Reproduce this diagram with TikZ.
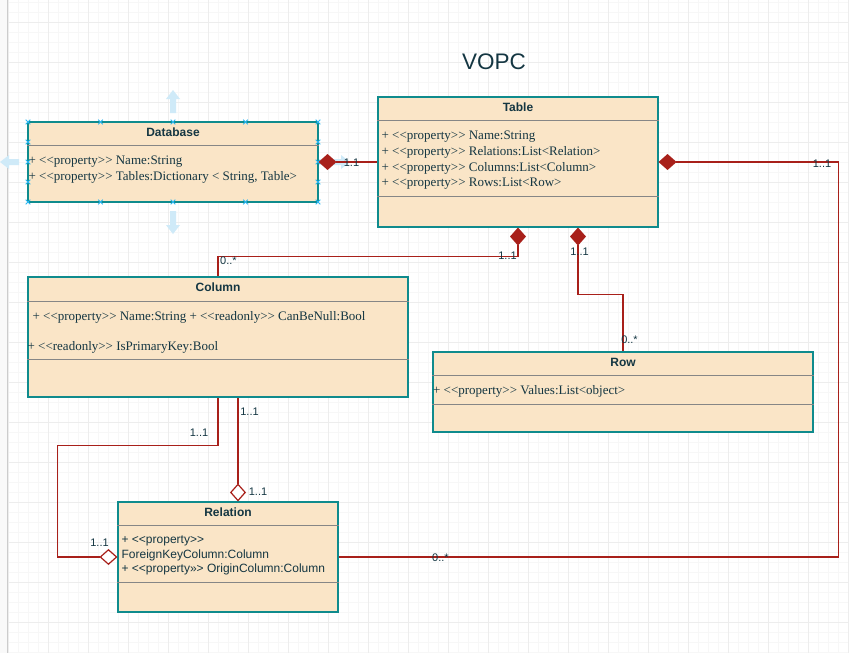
\documentclass[tikz,border=0pt]{standalone}
\usepackage{fontspec}
\setmainfont{Liberation Serif}[Ligatures=TeXOff]
\setsansfont{Liberation Sans}[Ligatures=TeXOff]
\usepackage{tikz}
\usetikzlibrary{shapes,arrows,arrows.meta}
\definecolor{classfill}{HTML}{FAE5C7}
\definecolor{classline}{HTML}{0F8B8D}
\definecolor{linkred}{HTML}{A8201A}
\definecolor{inkblue}{HTML}{143642}
\definecolor{hoverblue}{HTML}{CFEAF8}
\definecolor{handleblue}{HTML}{29B6F2}

\begin{document}
\begin{tikzpicture}[x=1pt,y=-1pt]
	\tikzstyle{classbox} = [draw=classline, fill=classfill, shape=rectangle, line width=1.1pt, inner sep=0pt]
	\tikzstyle{compline} = [draw=gray!95, line width=0.9pt]
	\tikzstyle{classtitle} = [text=inkblue, font=\fontsize{12}{14}\selectfont\sffamily\bfseries, inner sep=0pt, anchor=base]
	\tikzstyle{attr} = [text=inkblue, font=\fontsize{13}{16}\selectfont, inner sep=0pt, anchor=base west]
	\tikzstyle{attrsans} = [attr, font=\fontsize{12}{14}\selectfont\sffamily]
	\tikzstyle{mult} = [text=inkblue, font=\fontsize{11}{13}\selectfont\sffamily, inner sep=0pt, anchor=base]
	\tikzstyle{link} = [draw=linkred, line width=1.2pt]
	\tikzstyle{comp} = [link, {Diamond[length=18pt,width=16pt,fill=linkred]}-]
	\tikzstyle{agg} = [link, {Diamond[length=18pt,width=16pt,open,fill=white]}-]
	\tikzstyle{minorgrid} = [draw=gray!6, line width=0.8pt]
	\tikzstyle{majorgrid} = [draw=gray!14, line width=0.8pt]
	\tikzstyle{hoverarrow} = [fill=hoverblue]
	\tikzstyle{handle} = [draw=handleblue, line width=0.8pt]
	\useasboundingbox (0,0) rectangle (849,653);
	%Background grid
	\fill[white] (0,0) rectangle (849,653);
	\fill[gray!5] (0,0) rectangle (7,653);
	\foreach \gx in {8,18,...,848} \draw[minorgrid] (\gx,0) -- (\gx,653);
	\foreach \gy in {2,12,...,652} \draw[minorgrid] (7,\gy) -- (849,\gy);
	\foreach \gx in {8,48,...,848} \draw[majorgrid] (\gx,0) -- (\gx,653);
	\foreach \gy in {22,62,...,622} \draw[majorgrid] (7,\gy) -- (849,\gy);
	\draw[gray!40] (7,0) -- (7,653);
	%Hover arrows round the selected class
	\fill[hoverarrow, shift={(173,113)}] (-3,0) -- (-3,-14) -- (-7,-14) -- (0,-23) -- (7,-14) -- (3,-14) -- (3,0) -- cycle;
	\fill[hoverarrow, shift={(173,211)}, rotate=180] (-3,0) -- (-3,-14) -- (-7,-14) -- (0,-23) -- (7,-14) -- (3,-14) -- (3,0) -- cycle;
	\fill[hoverarrow, shift={(19,162)}, rotate=90] (-3,0) -- (-3,-10) -- (-7,-10) -- (0,-19) -- (7,-10) -- (3,-10) -- (3,0) -- cycle;
	\fill[hoverarrow, shift={(327,162)}, rotate=-90] (-3,0) -- (-3,-14) -- (-7,-14) -- (0,-23) -- (7,-14) -- (3,-14) -- (3,0) -- cycle;
	%Title
	\node[font=\fontsize{22.5}{26}\selectfont\sffamily, text=inkblue, anchor=base] (title) at (494,69.3) {VOPC};
	%Creating Classes
	\node[classbox, minimum width=290, minimum height=80] (db) at (173,162) {};
	\node[classtitle] (db-name) at ([yshift=-15pt]db.north) {Database};
	\draw[compline] ([yshift=-24pt]db.north west) -- ([yshift=-24pt]db.north east);
	\node[attr] (db-a1) at ([xshift=1pt,yshift=-43.5pt]db.north west) {+ <<property>> Name:String};
	\node[attr] (db-a2) at ([xshift=1pt,yshift=-59.5pt]db.north west) {+ <<property>> Tables:Dictionary < String, Table>};

	\node[classbox, minimum width=280, minimum height=130] (tbl) at (518,162) {};
	\node[classtitle] (tbl-name) at ([yshift=-15pt]tbl.north) {Table};
	\draw[compline] ([yshift=-24pt]tbl.north west) -- ([yshift=-24pt]tbl.north east);
	\draw[compline] ([yshift=-100pt]tbl.north west) -- ([yshift=-100pt]tbl.north east);
	\node[attr] (tbl-a1) at ([xshift=4pt,yshift=-43pt]tbl.north west) {+ <<property>> Name:String};
	\node[attr] (tbl-a2) at ([xshift=4pt,yshift=-59pt]tbl.north west) {+ <<property>> Relations:List<Relation>};
	\node[attr] (tbl-a3) at ([xshift=4pt,yshift=-75pt]tbl.north west) {+ <<property>> Columns:List<Column>};
	\node[attr] (tbl-a4) at ([xshift=4pt,yshift=-90.5pt]tbl.north west) {+ <<property>> Rows:List<Row>};

	\node[classbox, minimum width=380, minimum height=120] (col) at (218,337) {};
	\node[classtitle] (col-name) at ([yshift=-15pt]col.north) {Column};
	\draw[compline] ([yshift=-25pt]col.north west) -- ([yshift=-25pt]col.north east);
	\draw[compline] ([yshift=-83pt]col.north west) -- ([yshift=-83pt]col.north east);
	\node[attr] (col-a1) at ([xshift=5pt,yshift=-44pt]col.north west) {+ <<property>> Name:String + <<readonly>> CanBeNull:Bool};
	\node[attr] (col-a2) at ([xshift=0pt,yshift=-74pt]col.north west) {+ <<readonly>> IsPrimaryKey:Bool};

	\node[classbox, minimum width=380, minimum height=80] (row) at (623,392) {};
	\node[classtitle] (row-name) at ([yshift=-15pt]row.north) {Row};
	\draw[compline] ([yshift=-24pt]row.north west) -- ([yshift=-24pt]row.north east);
	\draw[compline] ([yshift=-53pt]row.north west) -- ([yshift=-53pt]row.north east);
	\node[attr] (row-a1) at ([xshift=0.5pt,yshift=-43pt]row.north west) {+ <<property>> Values:List<object>};

	\node[classbox, minimum width=220, minimum height=110] (rel) at (228,557) {};
	\node[classtitle] (rel-name) at ([yshift=-15pt]rel.north) {Relation};
	\draw[compline] ([yshift=-24pt]rel.north west) -- ([yshift=-24pt]rel.north east);
	\draw[compline] ([yshift=-81pt]rel.north west) -- ([yshift=-81pt]rel.north east);
	\node[attrsans] (rel-a1) at ([xshift=4pt,yshift=-42pt]rel.north west) {+ <<property>>};
	\node[attrsans] (rel-a2) at ([xshift=4pt,yshift=-57pt]rel.north west) {ForeignKeyColumn:Column};
	\node[attrsans] (rel-a3) at ([xshift=4pt,yshift=-71pt]rel.north west) {+ <<property»> OriginColumn:Column};
	%Selection handles
	\foreach \hx in {28,100.5,173,245.5,318}
		\foreach \hy in {122,202}
			\draw[handle] (\hx,\hy) +(-2.3,-2.3) -- +(2.3,2.3) +(-2.3,2.3) -- +(2.3,-2.3);
	\foreach \hx in {28,318}
		\foreach \hy in {142,162,182}
			\draw[handle] (\hx,\hy) +(-2.3,-2.3) -- +(2.3,2.3) +(-2.3,2.3) -- +(2.3,-2.3);
	%Conecting Classes
	\draw[comp] (db.east) -- (tbl.west);
	\draw[comp] (tbl.east) -- ++(180,0) |- (rel.east);
	\draw[comp] (tbl.south) |- ([yshift=20pt]col.north) -- (col.north);
	\draw[comp] ([xshift=60pt]tbl.south) |- ([yshift=57pt]row.north) -- (row.north);
	\draw[agg] (rel.west) -- ++(-60,0) |- ([yshift=-48pt]col.south) -- (col.south);
	\draw[agg] ([xshift=10pt]rel.north) -- ([xshift=20pt]col.south);
	%Multiplicities
	\node[mult] (m-db) at (351.5,166) {1.1};
	\node[mult] (m-tblright) at (822,167) {1..1};
	\node[mult] (m-relright) at (440.5,561) {0..*};
	\node[mult] (m-tblcol) at (507.5,259.3) {1..1};
	\node[mult] (m-coltop) at (228.5,264.5) {0..*};
	\node[mult] (m-tblrow) at (579.5,255.3) {1..1};
	\node[mult] (m-rowtop) at (629.5,343.3) {0..*};
	\node[mult] (m-colleft) at (199,436.7) {1..1};
	\node[mult] (m-colright) at (249.5,415.7) {1..1};
	\node[mult] (m-reltop) at (258,495.7) {1..1};
	\node[mult] (m-relleft) at (99.5,546.7) {1..1};
\end{tikzpicture}
\end{document}
